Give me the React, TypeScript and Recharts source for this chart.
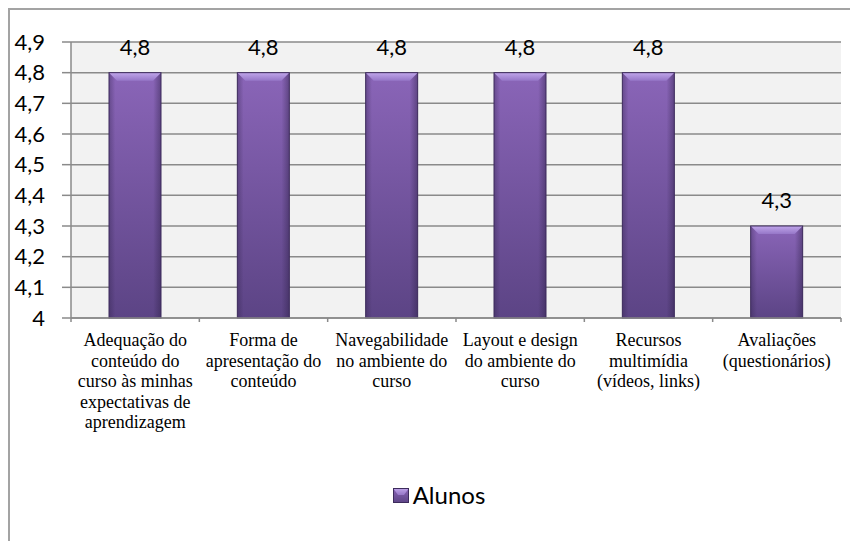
import React, { useState } from 'react';
import { createPortal } from 'react-dom';
import { BarChart, Bar, XAxis, YAxis, CartesianGrid, Legend, LabelList } from 'recharts';

// Values
const categories = [
  'Adequação do conteúdo do curso às minhas expectativas de aprendizagem',
  'Forma de apresentação do conteúdo',
  'Navegabilidade no ambiente do curso',
  'Layout e design do ambiente do curso',
  'Recursos multimídia (vídeos, links)',
  'Avaliações (questionários)',
];

const categoryLines = [
  ['Adequação do', 'conteúdo do', 'curso às minhas', 'expectativas de', 'aprendizagem'],
  ['Forma de', 'apresentação do', 'conteúdo'],
  ['Navegabilidade', 'no ambiente do', 'curso'],
  ['Layout e design', 'do ambiente do', 'curso'],
  ['Recursos', 'multimídia', '(vídeos, links)'],
  ['Avaliações', '(questionários)'],
];

const alunos = [4.8, 4.8, 4.8, 4.8, 4.8, 4.3];

const yTicks = [4, 4.1, 4.2, 4.3, 4.4, 4.5, 4.6, 4.7, 4.8, 4.9];

const data = categories.map((name, i) => ({ name, alunos: alunos[i] }));

const GRID = '#8a8a8a';
const X_TICK_SIZE = 4;
const X_TICK_MARGIN = 2;

const formatNumber = (v: number) => (Number.isInteger(v) ? String(v) : v.toFixed(1).replace('.', ','));

// tick marks in svg, category text as html in an overlay
function CategoryTick(props: any) {
  const { x, y, payload, index, visibleTicksCount, overlay } = props;
  const lines = categoryLines[index] || [];
  const half = payload.offset || 0;
  const axisY = y - X_TICK_SIZE - X_TICK_MARGIN;
  return (
    <g>
      <line x1={x - half} x2={x - half} y1={axisY} y2={axisY + X_TICK_SIZE} stroke={GRID} strokeWidth={1.5} />
      {index === visibleTicksCount - 1 && (
        <line x1={x + half} x2={x + half} y1={axisY} y2={axisY + X_TICK_SIZE} stroke={GRID} strokeWidth={1.5} />
      )}
      {overlay &&
        createPortal(
          <div
            style={{
              position: 'absolute',
              left: x - half - 10,
              top: y + 6,
              width: 2 * half + 20,
              fontSize: 18,
              lineHeight: '20.5px',
              textAlign: 'center',
              color: '#000',
              whiteSpace: 'nowrap',
            }}
          >
            {lines.map((line, i) => (
              <div key={i}>
                <span style={{ fontFamily: 'Liberation Serif' }}>{line}</span>
              </div>
            ))}
          </div>,
          overlay
        )}
    </g>
  );
}

function BevelBar(props: any) {
  const { x, y, width, height } = props;
  if (!height || height <= 0) return null;
  const b = Math.min(8, width / 4, height / 2);
  return (
    <g>
      <rect x={x} y={y} width={width} height={height} fill="url(#barBody)" />
      <rect x={x} y={y} width={width} height={height} fill="url(#barSides)" />
      <polygon
        points={`${x},${y} ${x + width},${y} ${x + width - b},${y + b} ${x + b},${y + b}`}
        fill="url(#barTop)"
      />
      <rect x={x} y={y} width={width} height={height} fill="none" stroke="#3d2b5c" strokeWidth={1} />
    </g>
  );
}

function LegendContent(props: any) {
  const { payload } = props;
  return (
    <div style={{ display: 'flex', justifyContent: 'center', alignItems: 'center', paddingLeft: 10 }}>
      {(payload || []).map((entry: any, i: number) => (
        <div key={i} style={{ display: 'flex', alignItems: 'center' }}>
          <svg width={16} height={15} style={{ marginRight: 4 }}>
            <rect x={0} y={0} width={16} height={15} fill="url(#barBody)" />
            <polygon points="0,0 16,0 11,7 5,7" fill="url(#barTop)" />
            <rect x={0.5} y={0.5} width={15} height={14} fill="none" stroke="#3d2b5c" strokeWidth={1} />
          </svg>
          <span style={{ fontFamily: 'Lato, sans-serif', fontSize: 24, color: '#000', lineHeight: '24px' }}>
            {entry.value}
          </span>
        </div>
      ))}
    </div>
  );
}

export default function App() {
  const [overlay, setOverlay] = useState<HTMLDivElement | null>(null);
  return (
    <div
      style={{
        position: 'relative',
        width: 850,
        height: 533,
        boxSizing: 'border-box',
        borderTop: '2px solid #a3a3a3',
        borderLeft: '2px solid #a3a3a3',
      }}
    >
      <svg width={0} height={0} style={{ position: 'absolute' }}>
        <defs>
          <linearGradient id="barBody" x1="0" y1="0" x2="0" y2="1">
            <stop offset="0%" stopColor="#8a65b8" />
            <stop offset="100%" stopColor="#5c4485" />
          </linearGradient>
          <linearGradient id="barSides" x1="0" y1="0" x2="1" y2="0">
            <stop offset="0%" stopColor="#2c1f45" stopOpacity={0.35} />
            <stop offset="12%" stopColor="#2c1f45" stopOpacity={0} />
            <stop offset="85%" stopColor="#2c1f45" stopOpacity={0} />
            <stop offset="100%" stopColor="#2c1f45" stopOpacity={0.45} />
          </linearGradient>
          <linearGradient id="barTop" x1="0" y1="0" x2="0" y2="1">
            <stop offset="0%" stopColor="#c0a6ea" />
            <stop offset="100%" stopColor="#9677c8" />
          </linearGradient>
        </defs>
      </svg>
      <BarChart width={848} height={531} data={data} margin={{ top: 32, right: 17, left: 0, bottom: 0 }}>
        <CartesianGrid vertical={false} stroke={GRID} strokeWidth={1.5} fill="#f2f2f2" />
        <XAxis
          dataKey="name"
          interval={0}
          height={223}
          tickLine={false}
          tickSize={X_TICK_SIZE}
          tickMargin={X_TICK_MARGIN}
          axisLine={{ stroke: GRID, strokeWidth: 1.5 }}
          tick={(p: any) => <CategoryTick {...p} overlay={overlay} />}
        />
        <YAxis
          width={61}
          domain={[4, 4.9]}
          ticks={yTicks}
          interval={0}
          tickSize={9}
          tickMargin={17}
          tickFormatter={formatNumber}
          axisLine={{ stroke: GRID, strokeWidth: 1.5 }}
          tickLine={{ stroke: GRID, strokeWidth: 1.5 }}
          tick={{ fill: '#000', fontSize: 22, fontFamily: 'Lato, sans-serif' }}
        />
        <Legend
          verticalAlign="middle"
          align="center"
          wrapperStyle={{ top: 473, left: 0, width: 848 }}
          content={<LegendContent />}
        />
        <Bar dataKey="alunos" name="Alunos" barSize={52} fill="#7a5aa6" shape={<BevelBar />} isAnimationActive={false}>
          <LabelList
            dataKey="alunos"
            position="top"
            offset={18}
            formatter={(v: any) => formatNumber(Number(v))}
            style={{ fill: '#000', fontSize: 22, fontFamily: 'Lato, sans-serif' }}
          />
        </Bar>
      </BarChart>
      <div
        ref={setOverlay}
        style={{ position: 'absolute', left: 0, top: 0, width: 848, height: 531, pointerEvents: 'none' }}
      />
    </div>
  );
}
